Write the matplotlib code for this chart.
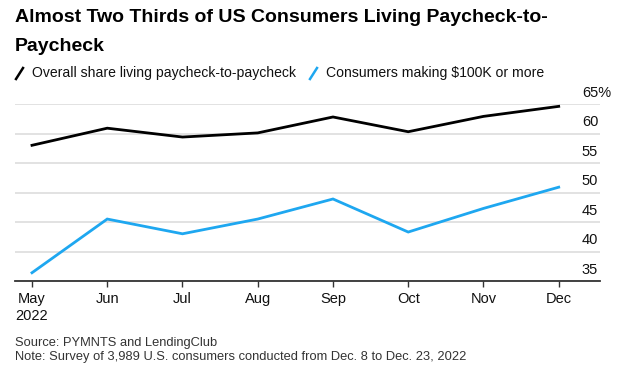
import matplotlib
matplotlib.use("Agg")
import matplotlib.pyplot as plt
from matplotlib.lines import Line2D
from matplotlib.transforms import ScaledTranslation

months = ["May\n2022", "Jun", "Jul", "Aug", "Sep", "Oct", "Nov", "Dec"]
overall = [58.0, 60.9, 59.4, 60.1, 62.8, 60.3, 62.9, 64.6]
high_income = [36.4, 45.5, 43.0, 45.5, 48.9, 43.3, 47.3, 50.9]
ytick_values = [35, 40, 45, 50, 55, 60, 65]
ytick_labels = ["35", "40", "45", "50", "55", "60", "65%"]

title = "Almost Two Thirds of US Consumers Living Paycheck-to-\nPaycheck"
legend_labels = ["Overall share living paycheck-to-paycheck", "Consumers making $100K or more"]
source = "Source: PYMNTS and LendingClub"
note = "Note: Survey of 3,989 U.S. consumers conducted from Dec. 8 to Dec. 23, 2022"

BLACK = "#000000"
BLUE = "#1ea7f0"
W, H = 620, 379
plt.rcParams["font.family"] = ["Liberation Sans", "DejaVu Sans"]

fig = plt.figure(figsize=(W / 100, H / 100), dpi=100)
fig.patch.set_facecolor("white")

def fx(px):
    return px / W

def fy(py):
    return 1 - py / H

ax_left, ax_right, ax_top, ax_bottom = 15, 600, 104, 281
ax = fig.add_axes([fx(ax_left), fy(ax_bottom), fx(ax_right - ax_left), (ax_bottom - ax_top) / H])

x = list(range(len(months)))
ax.plot(x, overall, color=BLACK, lw=2.0, solid_joinstyle="miter", clip_on=False, zorder=3)
ax.plot(x, high_income, color=BLUE, lw=2.0, solid_joinstyle="miter", clip_on=False, zorder=3)

ppu = (558.7 - 32) / 7
ax.set_xlim(-(32 - ax_left) / ppu, (ax_right - 32) / ppu)
ax.set_ylim(35, 65)

ax.set_xticks(x)
ax.set_xticklabels(months, fontsize=10.5, color="#111111", linespacing=1.25)
ax.tick_params(axis="x", length=4, width=1, color="#333333", pad=4)

ax.yaxis.tick_right()
ax.set_yticks(ytick_values)
ax.set_yticklabels(ytick_labels, fontsize=10.5, color="#111111")
ax.tick_params(axis="y", length=0, pad=-13)
for lab in ax.get_yticklabels():
    lab.set_horizontalalignment("left")
    lab.set_transform(lab.get_transform() + ScaledTranslation(0, 0.13, fig.dpi_scale_trans))

ax.grid(axis="y", color="#dddddd", lw=1.2)
ax.set_axisbelow(True)
for s in ["top", "left", "right"]:
    ax.spines[s].set_visible(False)
ax.spines["bottom"].set_color("#333333")
ax.spines["bottom"].set_linewidth(1.3)
ax.spines["bottom"].set_zorder(4)

fig.text(fx(15), fy(9), title, fontsize=14, fontweight="bold", color="#000000",
         va="top", ha="left", linespacing=1.95)

# legend
ly = 73
for (x0, label, col) in [(15, legend_labels[0], BLACK), (309, legend_labels[1], BLUE)]:
    fig.add_artist(Line2D([fx(x0 + 1), fx(x0 + 8)], [fy(ly + 6), fy(ly - 5)], color=col, lw=1.8))
    fig.text(fx(x0 + 17), fy(ly), label, fontsize=10.1, color="#111111", va="center", ha="left")

fig.text(fx(15), fy(343), source, fontsize=9.3, color="#333333", va="center", ha="left")
fig.text(fx(15), fy(357), note, fontsize=9.3, color="#333333", va="center", ha="left")

fig.savefig("out.png", dpi=100, facecolor="white")
